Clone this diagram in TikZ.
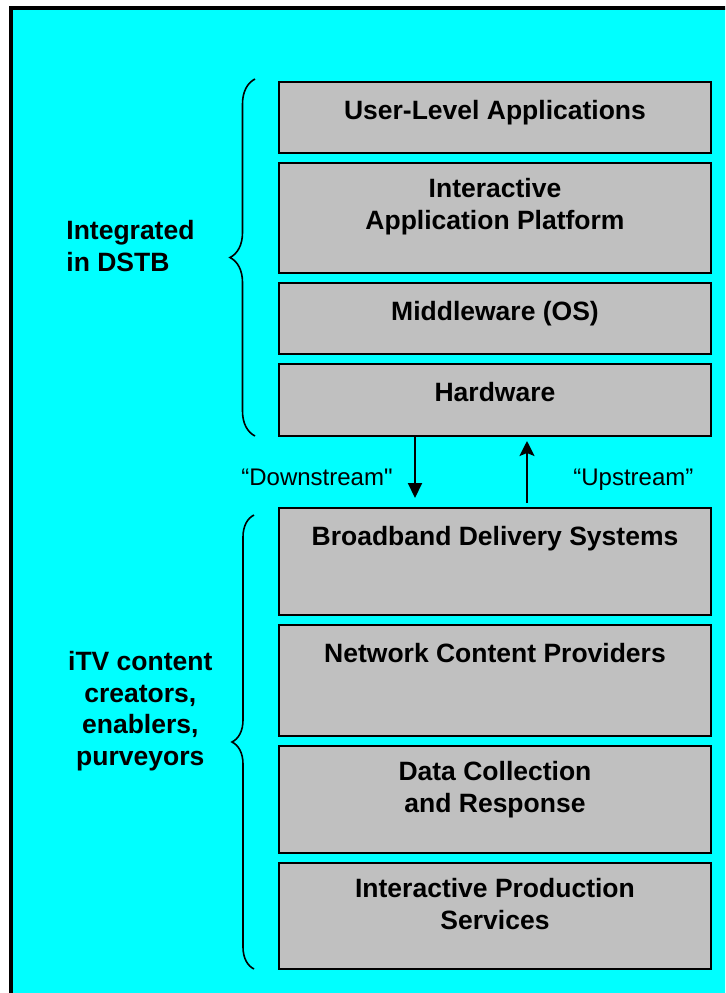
\documentclass[tikz,border=0pt]{standalone}
\usepackage{fontspec}
\setmainfont{Liberation Sans}
\usepackage{tikz}
\usetikzlibrary{positioning,arrows.meta,decorations.pathreplacing}

\definecolor{bgcyan}{RGB}{0,255,255}
\definecolor{boxgray}{RGB}{192,192,192}

\begin{document}
\begin{tikzpicture}[
	box/.style={draw, line width=1pt, fill=boxgray, minimum width=216pt, outer sep=0pt, inner sep=0pt},
	txt/.style={font=\fontsize{13.25}{15.8}\selectfont\bfseries, align=center, anchor=north, inner sep=0pt, yshift=-7.55pt, execute at begin node=\strut},
	grp/.style={font=\fontsize{13.25}{15.8}\selectfont\bfseries, inner sep=0pt, execute at begin node=\strut},
	flow/.style={font=\fontsize{12}{14}\selectfont\addfontfeatures{Ligatures=TeXOff}, inner sep=0pt},
	brc/.style={decorate, line width=0.8pt},
	node distance=5pt
]
\useasboundingbox (0,0) rectangle (362.5pt,-496.5pt);
\clip (0,0) rectangle (362.5pt,-496.5pt);
\fill[white] (0,0) rectangle (362.5pt,-496.5pt);
\fill[bgcyan] (5.25pt,-4pt) rectangle (370pt,-505pt);
\draw[line width=2pt] (5.25pt,-4pt) rectangle (370pt,-505pt);

% set-top box layers
\node[box, minimum height=35.5pt, anchor=north] (ula) at (247.5pt,-41pt) {};
\node[box, minimum height=55pt, below=of ula] (iap) {};
\node[box, minimum height=35.5pt, below=of iap] (mw) {};
\node[box, minimum height=36pt, below=of mw] (hw) {};

% content side
\node[box, minimum height=53.5pt, below=36pt of hw] (bds) {};
\node[box, minimum height=55.5pt, below=of bds] (ncp) {};
\node[box, minimum height=53.5pt, below=of ncp] (dcr) {};
\node[box, minimum height=53pt, below=of dcr] (ips) {};

\node[txt] (t-ula) at (ula.north) {User-Level Applications};
\node[txt] (t-iap) at (iap.north) {Interactive\\Application Platform};
\node[txt] (t-mw) at (mw.north) {Middleware (OS)};
\node[txt] (t-hw) at (hw.north) {Hardware};
\node[txt] (t-bds) at (bds.north) {Broadband Delivery Systems};
\node[txt] (t-ncp) at (ncp.north) {Network Content Providers};
\node[txt] (t-dcr) at (dcr.north) {Data Collection\\and Response};
\node[txt] (t-ips) at (ips.north) {Interactive Production\\Services};

\path[-{Triangle[length=7.5pt,width=7pt]}, line width=1pt, shorten >=5pt]
([xshift=68pt]hw.south west) edge ([xshift=68pt]bds.north west)
;
\path[-{Stealth[length=7.5pt,width=7.5pt,inset=1.5pt]}, line width=1pt, shorten <=2.5pt, shorten >=2.5pt]
([xshift=124pt]bds.north west) edge ([xshift=124pt]hw.south west)
;
\node[flow, anchor=base east] (down) at ([xshift=57pt,yshift=-24.5pt]hw.south west) {“Downstream"};
\node[flow, anchor=base west] (up) at ([xshift=147pt,yshift=-24.5pt]hw.south west) {“Upstream”};

% braces
\draw[brc, decoration={brace, amplitude=12.5pt}] ([xshift=-12pt]hw.south west) -- ([xshift=-12pt,yshift=1.5pt]ula.north west);
\draw[brc, decoration={brace, amplitude=11pt}] ([xshift=-12.5pt]ips.south west) -- ([xshift=-12.5pt,yshift=-3.5pt]bds.north west);

\node[grp, align=left, anchor=north west] (dstb) at (33pt,-110.15pt) {Integrated\\in DSTB};
\node[grp, align=center, anchor=north] (itv) at (70.15pt,-325.45pt) {iTV content\\creators,\\enablers,\\purveyors};
\end{tikzpicture}
\end{document}
